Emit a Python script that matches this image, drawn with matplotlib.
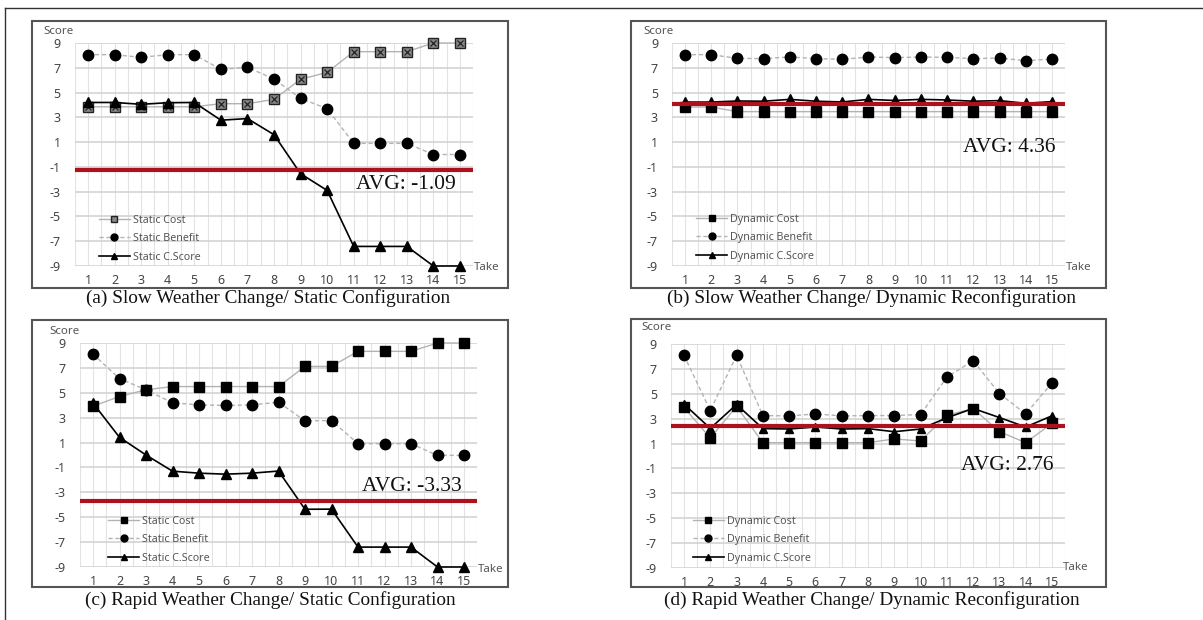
import matplotlib
matplotlib.use("Agg")
import matplotlib.pyplot as plt
from matplotlib.patches import Rectangle
from matplotlib.lines import Line2D
import numpy as np

W, H = 1203, 620

takes = list(range(1, 16))
y_ticks = [-9, -7, -5, -3, -1, 1, 3, 5, 7, 9]

# (a) Slow weather / static
a_cost = [3.85, 3.85, 3.85, 3.85, 3.85, 4.1, 4.1, 4.45, 6.07, 6.63, 8.3, 8.3, 8.3, 9.0, 9.0]
a_benefit = [8.06, 8.06, 7.84, 8.06, 8.06, 6.87, 7.04, 6.09, 4.53, 3.7, 0.9, 0.9, 0.9, 0.0, 0.0]
a_score = [4.2, 4.2, 4.05, 4.18, 4.2, 2.77, 2.9, 1.6, -1.55, -2.9, -7.42, -7.42, -7.42, -9.0, -9.0]

# (b) Slow weather / dynamic
b_cost = [3.83, 3.83, 3.46, 3.46, 3.46, 3.46, 3.46, 3.46, 3.46, 3.46, 3.46, 3.46, 3.46, 3.46, 3.46]
b_benefit = [8.06, 8.06, 7.76, 7.74, 7.87, 7.74, 7.68, 7.87, 7.82, 7.87, 7.84, 7.74, 7.79, 7.57, 7.71]
b_score = [4.23, 4.23, 4.32, 4.3, 4.45, 4.3, 4.24, 4.45, 4.36, 4.45, 4.4, 4.3, 4.35, 4.13, 4.27]

# (c) Rapid weather / static
c_cost = [3.92, 4.7, 5.24, 5.5, 5.5, 5.5, 5.5, 5.5, 7.12, 7.12, 8.33, 8.33, 8.33, 9.0, 9.0]
c_benefit = [8.11, 6.13, 5.24, 4.19, 4.03, 3.98, 4.03, 4.24, 2.74, 2.77, 0.91, 0.91, 0.91, -0.03, -0.03]
c_score = [4.17, 1.42, 0.0, -1.3, -1.46, -1.54, -1.46, -1.29, -4.36, -4.35, -7.4, -7.4, -7.4, -9.0, -9.0]

# (d) Rapid weather / dynamic
d_cost = [3.9, 1.45, 3.98, 1.07, 1.07, 1.07, 1.07, 1.07, 1.37, 1.21, 3.28, 3.81, 1.96, 1.07, 2.63]
d_benefit = [8.09, 3.65, 8.09, 3.25, 3.22, 3.38, 3.22, 3.25, 3.25, 3.33, 6.34, 7.66, 5.02, 3.38, 5.88]
d_score = [4.17, 2.22, 4.14, 2.2, 2.17, 2.33, 2.17, 2.2, 1.95, 2.17, 3.07, 3.82, 3.09, 2.33, 3.23]

avg_line = [-1.22, 4.08, -3.71, 2.44]
avg_label = ["AVG: -1.09", "AVG: 4.36", "AVG: -3.33", "AVG: 2.76"]

captions = ["(a) Slow Weather Change/ Static Configuration",
            "(b) Slow Weather Change/ Dynamic Reconfiguration",
            "(c) Rapid Weather Change/ Static Configuration",
            "(d) Rapid Weather Change/ Dynamic Reconfiguration"]
legend_labels = [["Static Cost", "Static Benefit", "Static C.Score"],
                 ["Dynamic Cost", "Dynamic Benefit", "Dynamic C.Score"],
                 ["Static Cost", "Static Benefit", "Static C.Score"],
                 ["Dynamic Cost", "Dynamic Benefit", "Dynamic C.Score"]]

series = [(a_cost, a_benefit, a_score), (b_cost, b_benefit, b_score),
          (c_cost, c_benefit, c_score), (d_cost, d_benefit, d_score)]

# layout in pixels
axes_px = [(74.7, 43, 473.3, 266), (671.9, 43, 1065.1, 266),
           (79.75, 343, 477.25, 567), (670.85, 344, 1065.15, 568)]
frames_px = [(32, 21, 508, 288), (631, 21, 1106, 288),
             (32, 320, 508, 587), (631, 319, 1106, 587)]
cap_px = [(268, 298), (871, 298), (270, 600), (872, 600)]
score_px = [(58, 32), (658, 32), (64, 332), (656, 328)]
take_px = [(487, 268), (1079, 268), (491, 570), (1076, 567)]
avg_pos = [(14.85, -2.46), (15.15, 0.6), (14.92, -2.5), (15.07, -0.8)]
leg_pos = [(1.41, -4.85), (1.42, -4.78), (1.57, -4.88), (1.34, -4.8)]

SANS = ["Noto Sans", "DejaVu Sans"]
SERIF = ["Liberation Serif", "DejaVu Serif"]

fig = plt.figure(figsize=(W / 100, H / 100), dpi=100)
fig.patch.set_facecolor("white")

def fx(x):
    return x / W

def fy(y):
    return 1 - y / H

# outer frame lines
fig.add_artist(Line2D([fx(5), fx(5)], [fy(8), 0], color="#333333", lw=1.0))
fig.add_artist(Line2D([fx(5), 1], [fy(8), fy(8)], color="#333333", lw=1.0))

for i in range(4):
    x0, y0, x1, y1 = frames_px[i]
    fig.add_artist(Rectangle((fx(x0), fy(y1)), fx(x1 - x0), (y1 - y0) / H,
                             fill=False, edgecolor="#555555", lw=1.5))
    ax0, ay0, ax1, ay1 = axes_px[i]
    ax = fig.add_axes([fx(ax0), fy(ay1), fx(ax1 - ax0), (ay1 - ay0) / H])
    ax.set_xlim(0.5, 15.5)
    ax.set_ylim(-9, 9)
    for s in ax.spines.values():
        s.set_visible(False)
    # grid
    for xv in np.arange(0.5, 15.51, 0.5):
        ax.axvline(xv, color="#e3e3e3", lw=0.8, zorder=0)
    for yv in y_ticks:
        ax.axhline(yv, color="#d0d0d0", lw=1.1, zorder=0.5)
    ax.set_xticks(takes)
    ax.set_yticks(y_ticks)
    ax.set_xticklabels([str(t) for t in takes], fontsize=9, color="#444444", family=SANS)
    ax.set_yticklabels([str(t) for t in y_ticks], fontsize=9, color="#444444", family=SANS)
    ax.tick_params(axis="both", length=0)
    ax.tick_params(axis="y", pad=10)
    ax.tick_params(axis="x", pad=5.5)

    cost, benefit, score = series[i]
    if i == 0:
        l1, = ax.plot(takes, cost, color="#b3b3b3", lw=1.0, marker="s", ms=6.5,
                      mfc="#888888", mec="#222222", mew=1.0, zorder=2, clip_on=False)
        ax.plot(takes, cost, ls="none", marker="x", ms=4.5, mec="#222222", mew=0.9,
                zorder=2.1, clip_on=False)
    else:
        l1, = ax.plot(takes, cost, color="#b3b3b3", lw=1.0, marker="s", ms=6.5,
                      mfc="black", mec="black", zorder=2, clip_on=False)
    l2, = ax.plot(takes, benefit, color="#b3b3b3", lw=1.0, ls=(0, (3, 2)), marker="o",
                  ms=7.5, mfc="black", mec="black", zorder=2, clip_on=False)
    tri_ms = 6 if i == 3 else 7
    l3, = ax.plot(takes, score, color="black", lw=1.2, marker="^", ms=tri_ms,
                  mfc="black", mec="black", zorder=2.2, clip_on=False)

    ax.axhline(avg_line[i], color="#b0101c", lw=3.0, zorder=3)

    ax.text(avg_pos[i][0], avg_pos[i][1], avg_label[i], ha="right", va="center",
            fontsize=15.5, family=SERIF, color="#111111", zorder=5)

    leg = ax.legend([l1, l2, l3], legend_labels[i], loc="upper left",
                    bbox_to_anchor=leg_pos[i], bbox_transform=ax.transData,
                    frameon=False, handlelength=2.9, handletextpad=0.3,
                    labelspacing=0.7, borderpad=0, borderaxespad=0,
                    prop={"family": SANS, "size": 7.7})
    for t in leg.get_texts():
        t.set_color("#555555")
    for h in leg.legend_handles:
        h.set_markersize(5)

    fig.text(fx(score_px[i][0]), fy(score_px[i][1]), "Score", ha="center", va="center",
             fontsize=8.3, color="#555555", family=SANS)
    fig.text(fx(take_px[i][0]), fy(take_px[i][1]), "Take", ha="center", va="center",
             fontsize=8.3, color="#555555", family=SANS)
    fig.text(fx(cap_px[i][0]), fy(cap_px[i][1]), captions[i], ha="center", va="center",
             fontsize=13.9, family=SERIF, color="#111111")

fig.savefig("out.png", dpi=100, facecolor="white")
